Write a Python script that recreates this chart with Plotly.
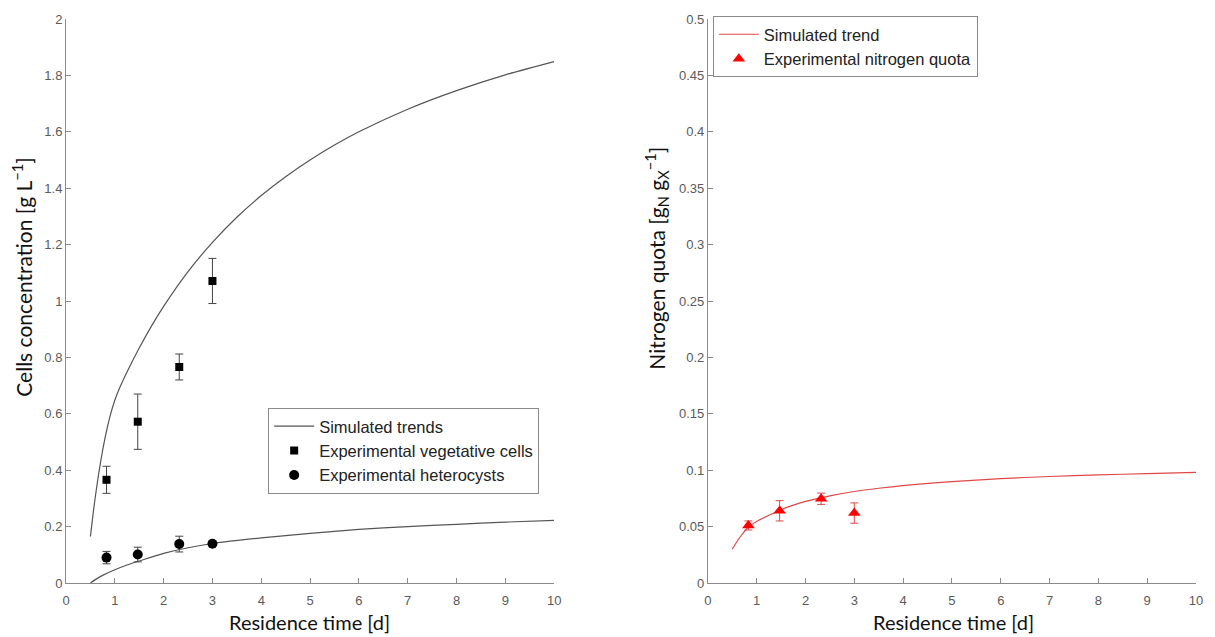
import plotly.graph_objects as go

# ---- data ----
# Left panel: simulated trends
sim_x_top = [0.5, 0.55, 0.6, 0.7, 0.8, 0.9, 1.0, 1.1, 1.25, 1.5, 1.75, 2.0, 2.5, 3.0, 3.5, 4.0, 4.5, 5, 5.5, 6, 7, 8, 9, 10]
sim_y_top = [0.165, 0.238, 0.305, 0.420, 0.515, 0.590, 0.648, 0.692, 0.748, 0.833, 0.911, 0.981, 1.104, 1.208, 1.297, 1.374, 1.441, 1.500, 1.553, 1.600, 1.680, 1.746, 1.802, 1.849]
sim_x_bot = [0.5, 0.6, 0.75, 1.0, 1.25, 1.5, 2.0, 2.5, 3.0, 4.0, 5, 6, 7, 8, 9, 10]
sim_y_bot = [0.0, 0.012, 0.027, 0.047, 0.064, 0.078, 0.105, 0.125, 0.14, 0.16, 0.176, 0.19, 0.200, 0.208, 0.216, 0.222]

# Left panel: experimental points
exp_x = [0.83, 1.47, 2.32, 3.0]
veg_y = [0.366, 0.572, 0.766, 1.071]
veg_err = [0.048, 0.098, 0.046, 0.080]
het_y = [0.090, 0.101, 0.138, 0.139]
het_err = [0.022, 0.026, 0.028, 0.004]

# Right panel
simN_x = [0.5, 0.6, 0.7, 0.83, 1.0, 1.25, 1.5, 1.75, 2.0, 2.5, 3.0, 3.5, 4.0, 5, 6, 7, 8, 9, 10]
simN_y = [0.030, 0.037, 0.043, 0.0497, 0.0546, 0.060, 0.065, 0.069, 0.0723, 0.0773, 0.0811, 0.084, 0.0864, 0.0899, 0.0925, 0.0944, 0.0958, 0.0970, 0.098]
N_y = [0.051, 0.064, 0.0747, 0.062]
N_err = [0.004, 0.009, 0.005, 0.009]

# ---- layout geometry (pixels) ----
W, H = 1215, 637
ML, MR, MT, MB = 66, 17, 16, 54
PW = W - ML - MR
PH = H - MT - MB

def px(x):
    return (x - ML) / PW

def py(y):
    return (H - MB - y) / PH

fig = go.Figure()

fig.add_trace(go.Scatter(x=sim_x_top, y=sim_y_top, mode="lines", line=dict(color="#555555", width=1.2, shape="spline", smoothing=0.8),
                         name="Simulated trends", legend="legend", legendgroup="sim", xaxis="x", yaxis="y"))
fig.add_trace(go.Scatter(x=sim_x_bot, y=sim_y_bot, mode="lines", line=dict(color="#555555", width=1.2, shape="spline", smoothing=0.8),
                         name="Simulated trends", legend="legend", legendgroup="sim", showlegend=False, xaxis="x", yaxis="y"))
fig.add_trace(go.Scatter(x=exp_x, y=veg_y, mode="markers", marker=dict(symbol="square", size=8, color="black"),
                         error_y=dict(type="data", array=veg_err, color="#444444", thickness=1, width=4),
                         name="Experimental vegetative cells", legend="legend", xaxis="x", yaxis="y"))
fig.add_trace(go.Scatter(x=exp_x, y=het_y, mode="markers", marker=dict(symbol="circle", size=10, color="black"),
                         error_y=dict(type="data", array=het_err, color="#444444", thickness=1, width=4),
                         name="Experimental heterocysts", legend="legend", xaxis="x", yaxis="y"))

fig.add_trace(go.Scatter(x=simN_x, y=simN_y, mode="lines", line=dict(color="#e04848", width=1.2, shape="spline", smoothing=0.8),
                         name="Simulated trend", legend="legend2", xaxis="x2", yaxis="y2"))
fig.add_trace(go.Scatter(x=exp_x, y=N_y, mode="markers", marker=dict(symbol="triangle-up", size=11, color="#ff0000"),
                         error_y=dict(type="data", array=N_err, color="#e04848", thickness=1, width=4),
                         name="Experimental nitrogen quota", legend="legend2", xaxis="x2", yaxis="y2"))

axis_common = dict(showline=True, linecolor="#8a8a8a", linewidth=1, ticks="inside", ticklen=5, tickcolor="#8a8a8a",
                   showgrid=False, zeroline=False, tickfont=dict(family="Liberation Sans, Arial", size=13, color="#5a5a5a"),
                   mirror=False)

legend_font = dict(family="Liberation Sans, Arial", size=16.5, color="#222222")

fig.update_layout(
    width=W, height=H,
    margin=dict(l=ML, r=MR, t=MT, b=MB),
    plot_bgcolor="white", paper_bgcolor="white",
    xaxis=dict(domain=[0, px(555)], range=[0, 10], dtick=1, tick0=0, anchor="y", ticklabelstandoff=5, **axis_common),
    yaxis=dict(domain=[0, 1], range=[0, 2], dtick=0.2, tick0=0, anchor="x", **axis_common),
    xaxis2=dict(domain=[px(709), 1], range=[0, 10], dtick=1, tick0=0, anchor="y2", ticklabelstandoff=5, **axis_common),
    yaxis2=dict(domain=[0, 1], range=[0, 0.5], dtick=0.05, tick0=0, anchor="x2", **axis_common),
    legend=dict(x=px(540), y=py(407), xanchor="right", yanchor="top", bgcolor="white",
                bordercolor="#8a8a8a", borderwidth=1, itemwidth=40,
                font=legend_font, tracegroupgap=0),
    legend2=dict(x=px(714), y=py(13), xanchor="left", yanchor="top", bgcolor="white",
                 bordercolor="#8a8a8a", borderwidth=1, itemwidth=40,
                 font=legend_font, tracegroupgap=0),
    showlegend=True,
)

title_font = dict(family="Lato, Carlito, Calibri", size=20, color="#111111")
annots = [
    dict(text="Residence time [d]", x=px(310), y=py(622), xref="paper", yref="paper", showarrow=False, font=title_font,
         xanchor="center", yanchor="middle"),
    dict(text="Residence time [d]", x=px(955), y=py(622), xref="paper", yref="paper", showarrow=False, font=title_font,
         xanchor="center", yanchor="middle"),
    dict(text="Cells concentration [g L<sup>\u22121</sup>]", x=px(22), y=py(276), xref="paper", yref="paper",
         showarrow=False, font=dict(family="Lato, Carlito, Calibri", size=21, color="#111111"), textangle=-90,
         xanchor="center", yanchor="middle"),
    dict(text="Nitrogen quota [g<sub>N</sub> g<sub>X</sub><sup>\u22121</sup>]", x=px(658), y=py(256), xref="paper",
         yref="paper", showarrow=False, font=dict(family="Lato, Carlito, Calibri", size=21, color="#111111"),
         textangle=-90, xanchor="center", yanchor="middle"),
]
fig.update_layout(annotations=annots)

fig.write_html("out.html")
